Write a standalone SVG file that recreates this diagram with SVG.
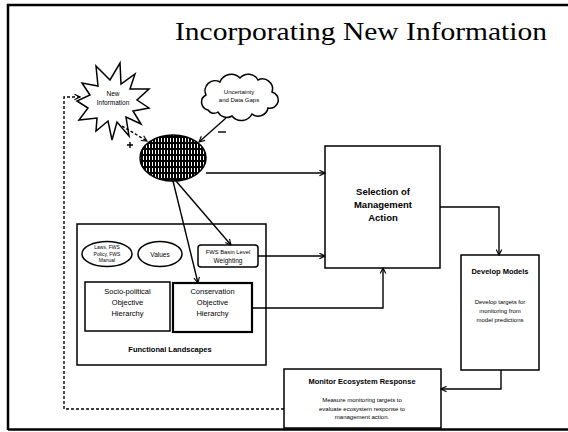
<svg xmlns="http://www.w3.org/2000/svg" width="568" height="432" viewBox="0 0 568 432">
  <defs>
    <style>
      .box { fill: #fff; stroke: #000; stroke-width: 1.5; }
      .thick { stroke-width: 2.2; }
      .wire { fill: none; stroke: #000; stroke-width: 1.4; }
      .dash { stroke-dasharray: 3 2; }
      .t { font-family: "Liberation Sans", Arial, sans-serif; fill: #000; text-anchor: middle; }
      .b { font-weight: bold; }
    </style>
    <marker id="arr" viewBox="0 0 10 10" refX="9" refY="5" markerWidth="7" markerHeight="7" orient="auto" markerUnits="userSpaceOnUse">
      <path d="M1,1 L9,5 L1,9" fill="none" stroke="#000" stroke-width="1.6"/>
    </marker>
    <pattern id="hatch" width="3" height="6" patternUnits="userSpaceOnUse">
      <rect width="3" height="6" fill="#000"/>
      <rect x="2" y="0" width="1" height="4" fill="#fff"/>
    </pattern>
  </defs>

  <rect width="568" height="432" fill="#fff"/>

  <!-- slide frame -->
  <path d="M8,430 L8,5 L570,5" fill="none" stroke="#000" stroke-width="2.5"/>
  <path d="M8,429.5 L570,429.5" fill="none" stroke="#000" stroke-width="2.5"/>

  <text x="175" y="40" font-family="Liberation Serif, 'Times New Roman', serif" font-size="26" textLength="372" lengthAdjust="spacingAndGlyphs">Incorporating New Information</text>

  <g id="new-information">
    <polygon class="box" points="120,63 121,84 135,74 130,89 149,89 137,100 149,108 133,111 141,124 126,117 129,136 117,122 112,140 108,121 96,131 97,118 79,120 88,108 77,101 90,95 82,83 98,86 96,66 110,80"/>
    <text class="t" x="113" y="96" font-size="6.5">New</text>
    <text class="t" x="113" y="105" font-size="6.5">Information</text>
  </g>

  <g id="uncertainty">
    <path class="box" d="M208,110 a8,8 0 0 1 -2,-15 a10,10 0 0 1 14,-13 a12,12 0 0 1 20,-4 a11,11 0 0 1 18,2 a10,10 0 0 1 14,12 a8,8 0 0 1 -4,16 a10,10 0 0 1 -16,6 a12,12 0 0 1 -20,2 a10,10 0 0 1 -14,-4 a7,7 0 0 1 -10,-2 Z"/>
    <text class="t" x="239" y="94" font-size="6">Uncertainty</text>
    <text class="t" x="239" y="102" font-size="6">and Data Gaps</text>
  </g>

  <g id="synthesis">
    <ellipse cx="173" cy="158" rx="33" ry="23" fill="url(#hatch)" stroke="#000" stroke-width="1.5"/>
  </g>

  <g id="functional-landscapes">
    <rect class="box" x="77" y="224" width="189" height="141"/>
    <text class="t b" x="170" y="352" font-size="7.5">Functional Landscapes</text>
  </g>

  <g id="laws">
    <ellipse class="box" cx="107" cy="254" rx="25" ry="12.5"/>
    <text class="t" x="107" y="249" font-size="5">Laws, FWS</text>
    <text class="t" x="107" y="255.5" font-size="5">Policy, FWS</text>
    <text class="t" x="107" y="262" font-size="5">Manual</text>
  </g>

  <g id="values">
    <ellipse class="box" cx="160" cy="254" rx="22" ry="12.5"/>
    <text class="t" x="160" y="257" font-size="6.5">Values</text>
  </g>

  <g id="basin-weighting">
    <rect class="box" x="198" y="245" width="60" height="22" rx="3"/>
    <text class="t" x="228" y="253.5" font-size="5.8">FWS Basin Level</text>
    <text class="t" x="228" y="263" font-size="6.5">Weighting</text>
  </g>

  <g id="socio-political">
    <rect class="box" x="85" y="282" width="85" height="49"/>
    <text class="t" x="127.5" y="294" font-size="7.5">Socio-political</text>
    <text class="t" x="127.5" y="305" font-size="7.5">Objective</text>
    <text class="t" x="127.5" y="316" font-size="7.5">Hierarchy</text>
  </g>

  <g id="conservation">
    <rect class="box thick" x="173" y="283" width="79" height="49"/>
    <text class="t" x="212.5" y="294" font-size="7.5">Conservation</text>
    <text class="t" x="212.5" y="305" font-size="7.5">Objective</text>
    <text class="t" x="212.5" y="316" font-size="7.5">Hierarchy</text>
  </g>

  <g id="selection">
    <rect class="box" x="325" y="146" width="115" height="122"/>
    <text class="t b" x="383" y="195" font-size="9.5">Selection of</text>
    <text class="t b" x="383" y="208" font-size="9.5">Management</text>
    <text class="t b" x="383" y="221" font-size="9.5">Action</text>
  </g>

  <g id="develop-models">
    <rect class="box" x="461" y="255" width="78" height="115"/>
    <text class="t b" x="500" y="274" font-size="7.5">Develop Models</text>
    <text class="t" x="500" y="304" font-size="6">Develop targets for</text>
    <text class="t" x="500" y="313" font-size="6">monitoring from</text>
    <text class="t" x="500" y="322" font-size="6">model predictions</text>
  </g>

  <g id="monitor">
    <rect class="box" x="284" y="369" width="157" height="59"/>
    <text class="t b" x="362" y="384" font-size="7.5">Monitor Ecosystem Response</text>
    <text class="t" x="362" y="402" font-size="6">Measure monitoring targets to</text>
    <text class="t" x="362" y="410.5" font-size="6">evaluate ecosystem response to</text>
    <text class="t" x="362" y="419" font-size="6">management action.</text>
  </g>

  <g id="connectors">
    <path class="wire dash" d="M122,126 L147,141" marker-end="url(#arr)"/>
    <path class="wire" d="M127,145 h6 M130,142 v6" stroke-width="1"/>
    <path class="wire" d="M226,118 L199,142" marker-end="url(#arr)"/>
    <path class="wire" d="M218,132 h8" stroke-width="1"/>
    <path class="wire" d="M206,173 L325,173" marker-end="url(#arr)"/>
    <path class="wire" d="M176,181 L231,245" marker-end="url(#arr)"/>
    <path class="wire" d="M173,181 L198,283" marker-end="url(#arr)"/>
    <path class="wire" d="M258,256 L325,256" marker-end="url(#arr)"/>
    <path class="wire" d="M252,308 L383,308 L383,268" marker-end="url(#arr)"/>
    <path class="wire" d="M440,207 L499,207 L499,255" marker-end="url(#arr)"/>
    <path class="wire" d="M501,370 L501,389 L441,389" marker-end="url(#arr)"/>
    <path class="wire dash" d="M284,409 L64,409 L64,97 L80,97" marker-end="url(#arr)"/>
  </g>
</svg>
